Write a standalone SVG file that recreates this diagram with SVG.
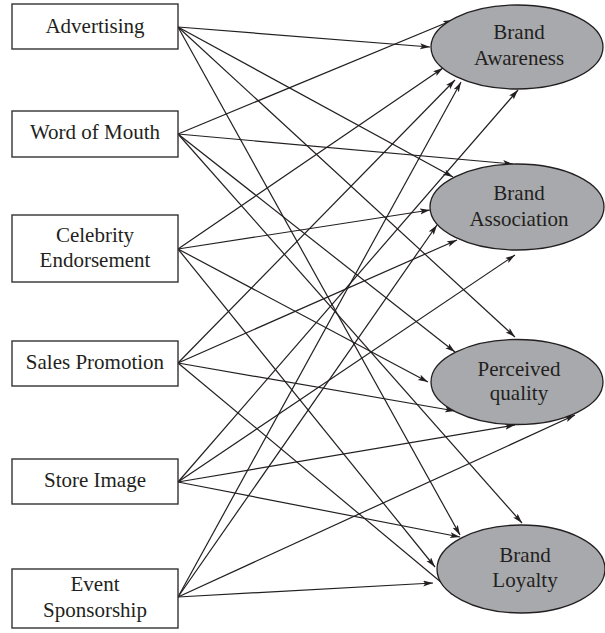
<svg xmlns="http://www.w3.org/2000/svg" width="605" height="633" viewBox="0 0 605 633">
<style>
.box{fill:#fff;stroke:#333;stroke-width:1.4}
.ell{fill:#a7a9ac;stroke:#231f20;stroke-width:1.3}
.t{font-family:"Liberation Serif","Times New Roman",serif;font-size:21px;fill:#231f20;text-anchor:middle}
.c line{stroke:#231f20;stroke-width:1.2;marker-end:url(#ah)}
</style>
<defs>
<marker id="ah" markerUnits="userSpaceOnUse" markerWidth="11" markerHeight="7" refX="10" refY="3" orient="auto">
<path d="M0,0 L10,3 L0,6 L2.2,3 z" fill="#231f20"/>
</marker>
</defs>
<rect width="605" height="633" fill="#fff"/>
<g id="connectors" class="c">
<line x1="178" y1="27" x2="430" y2="47"/>
<line x1="178" y1="27" x2="453" y2="177"/>
<line x1="178" y1="27" x2="515" y2="337"/>
<line x1="178" y1="27" x2="460" y2="535"/>
<line x1="178" y1="134" x2="453" y2="20"/>
<line x1="178" y1="134" x2="513" y2="164"/>
<line x1="178" y1="134" x2="455" y2="352"/>
<line x1="178" y1="134" x2="522" y2="523"/>
<line x1="178" y1="249" x2="443" y2="68"/>
<line x1="178" y1="249" x2="430" y2="210"/>
<line x1="178" y1="249" x2="428" y2="382"/>
<line x1="178" y1="249" x2="435" y2="567"/>
<line x1="178" y1="363" x2="455" y2="80"/>
<line x1="178" y1="363" x2="457" y2="240"/>
<line x1="178" y1="363" x2="455" y2="411"/>
<line x1="178" y1="363" x2="460" y2="598"/>
<line x1="178" y1="482" x2="518" y2="90"/>
<line x1="178" y1="482" x2="515" y2="255"/>
<line x1="178" y1="482" x2="515" y2="425"/>
<line x1="178" y1="482" x2="460" y2="537"/>
<line x1="178" y1="597" x2="461" y2="82"/>
<line x1="178" y1="597" x2="437" y2="225"/>
<line x1="178" y1="597" x2="575" y2="415"/>
<line x1="178" y1="597" x2="433" y2="583"/>
</g>
<g id="advertising"><rect class="box" x="12" y="4" width="166" height="45"/><text class="t" x="95" y="33">Advertising</text></g>
<g id="word-of-mouth"><rect class="box" x="12" y="111" width="166" height="46"/><text class="t" x="95" y="139">Word of Mouth</text></g>
<g id="celebrity-endorsement"><rect class="box" x="12" y="215" width="166" height="67"/><text class="t" x="95" y="242">Celebrity</text><text class="t" x="95" y="267">Endorsement</text></g>
<g id="sales-promotion"><rect class="box" x="12" y="341" width="166" height="45"/><text class="t" x="95" y="369">Sales Promotion</text></g>
<g id="store-image"><rect class="box" x="12" y="459" width="166" height="45"/><text class="t" x="95" y="487">Store Image</text></g>
<g id="event-sponsorship"><rect class="box" x="12" y="569" width="166" height="59"/><text class="t" x="95" y="591">Event</text><text class="t" x="95" y="617">Sponsorship</text></g>
<g id="brand-awareness"><ellipse class="ell" cx="517" cy="47" rx="86" ry="42"/><text class="t" x="519" y="39">Brand</text><text class="t" x="519" y="65">Awareness</text></g>
<g id="brand-association"><ellipse class="ell" cx="517" cy="207" rx="87" ry="43"/><text class="t" x="519" y="200">Brand</text><text class="t" x="519" y="226">Association</text></g>
<g id="perceived-quality"><ellipse class="ell" cx="517" cy="382" rx="86" ry="42.5"/><text class="t" x="519" y="376">Perceived</text><text class="t" x="519" y="400">quality</text></g>
<g id="brand-loyalty"><ellipse class="ell" cx="521" cy="569" rx="84" ry="44"/><text class="t" x="525" y="562">Brand</text><text class="t" x="525" y="587">Loyalty</text></g>
</svg>
